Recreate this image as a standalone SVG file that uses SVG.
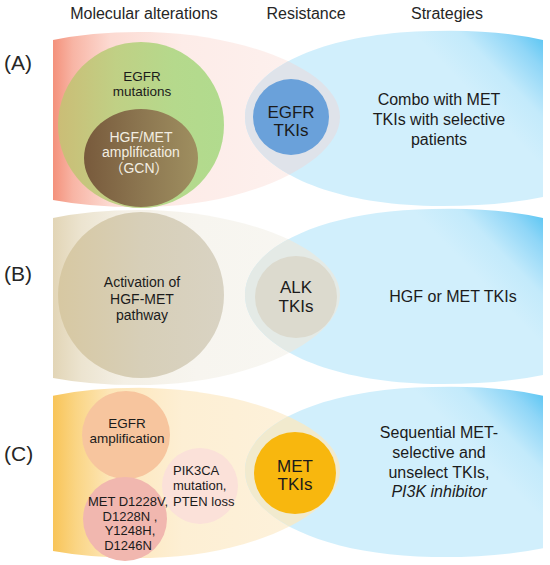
<svg xmlns="http://www.w3.org/2000/svg" xmlns:xlink="http://www.w3.org/1999/xlink" width="550" height="565" viewBox="0 0 550 565">
<defs>
<style>
text { font-family: "Liberation Sans", Arial, "Noto Sans CJK SC", sans-serif; fill:#1b1b1b; }
.hdr { font-size:16px; text-anchor:middle; fill:#262626; }
.lbl { font-size:21px; fill:#262626; }
.m { text-anchor:middle; }
.s13 { font-size:13px; }
.s135 { font-size:13.5px; }
.s14 { font-size:14px; }
.s16 { font-size:16px; }
.s17 { font-size:17px; }
.light { fill:#f3eee2; }
</style>
<path id="blueShape" d="M245,117 C245,70 320,33 432,31 Q495,29 543,40 L543,197 Q495,207 432,206 C320,204 245,164 245,117 Z"/>
<path id="leftShape" d="M340,117 C340,72 250,35 150,32 Q95,31 53,40 L53,200 Q95,208 150,207 C250,205 340,162 340,117 Z"/>
<clipPath id="clipLeft"><use href="#leftShape" xlink:href="#leftShape"/></clipPath>
<linearGradient id="gPink" gradientUnits="userSpaceOnUse" x1="53" y1="0" x2="340" y2="0">
<stop offset="0" stop-color="#f4917b"/><stop offset="0.07" stop-color="#f8b5a5"/><stop offset="0.2" stop-color="#fcdad2"/><stop offset="0.45" stop-color="#fdece8"/><stop offset="1" stop-color="#fdf2f0"/>
</linearGradient>
<linearGradient id="gTan" gradientUnits="userSpaceOnUse" x1="53" y1="0" x2="340" y2="0">
<stop offset="0" stop-color="#e2d5b6"/><stop offset="0.1" stop-color="#ece4d0"/><stop offset="0.25" stop-color="#f4f0e6"/><stop offset="0.5" stop-color="#f7f5ef"/><stop offset="1" stop-color="#f8f7f3"/>
</linearGradient>
<linearGradient id="gGold" gradientUnits="userSpaceOnUse" x1="53" y1="0" x2="340" y2="0">
<stop offset="0" stop-color="#f8c458"/><stop offset="0.08" stop-color="#fad584"/><stop offset="0.2" stop-color="#fde6b8"/><stop offset="0.45" stop-color="#fdefd4"/><stop offset="1" stop-color="#fdf2dd"/>
</linearGradient>
<linearGradient id="gBlue" gradientUnits="userSpaceOnUse" x1="548" y1="32" x2="478" y2="100">
<stop offset="0" stop-color="#4cc1f2"/><stop offset="0.3" stop-color="#8fd6f7"/><stop offset="0.65" stop-color="#c3eafb"/><stop offset="1" stop-color="#d1effc"/>
</linearGradient>
<linearGradient id="gGreen" x1="0" y1="0" x2="1" y2="0">
<stop offset="0" stop-color="#cbbd76"/><stop offset="0.35" stop-color="#c0d085"/><stop offset="0.7" stop-color="#b5d98c"/><stop offset="1" stop-color="#b1db8e"/>
</linearGradient>
<linearGradient id="gBrown" x1="0" y1="0" x2="1" y2="0">
<stop offset="0" stop-color="#785a3c"/><stop offset="0.5" stop-color="#8c7650"/><stop offset="1" stop-color="#9f8f60"/>
</linearGradient>
<linearGradient id="gTanC" x1="0" y1="0" x2="1" y2="0">
<stop offset="0" stop-color="#d7c8a2"/><stop offset="0.5" stop-color="#d7cfb8"/><stop offset="1" stop-color="#d9d3c3"/>
</linearGradient>
</defs>
<rect width="550" height="565" fill="#ffffff"/>

<g id="headers">
<text class="hdr" x="144" y="19">Molecular alterations</text>
<text class="hdr" x="306" y="19">Resistance</text>
<text class="hdr" x="447" y="19">Strategies</text>
</g>

<g id="panel-A">
<g id="bg-A">
<use href="#leftShape" xlink:href="#leftShape" fill="url(#gPink)"/>
<use href="#blueShape" xlink:href="#blueShape" fill="url(#gBlue)"/>
<use href="#blueShape" xlink:href="#blueShape" fill="#dfe3ea" clip-path="url(#clipLeft)"/>
</g>
<text class="lbl" x="4" y="70">(A)</text>
<g id="egfr-mutations">
<circle cx="141" cy="125" r="83" fill="url(#gGreen)"/>
<text class="s135 m" x="142" y="81">EGFR</text>
<text class="s135 m" x="142" y="96">mutations</text>
</g>
<g id="hgf-met-amp">
<ellipse cx="141" cy="158" rx="57" ry="49" fill="url(#gBrown)"/>
<text class="s14 m light" x="141" y="142">HGF/MET</text>
<text class="s14 m light" x="141" y="157">amplification</text>
<text class="s14 m light" x="139" y="173">（GCN）</text>
</g>
<g id="egfr-tkis">
<circle cx="291" cy="117" r="38" fill="#6aa1da"/>
<text class="s17 m" x="291" y="118">EGFR</text>
<text class="s17 m" x="291" y="136">TKIs</text>
</g>
<g id="strategy-A">
<text class="s16 m" x="439" y="105">Combo with MET</text>
<text class="s16 m" x="439" y="125">TKIs with selective</text>
<text class="s16 m" x="439" y="145">patients</text>
</g>
</g>

<g id="panel-B">
<g id="bg-B" transform="translate(0,178)">
<use href="#leftShape" xlink:href="#leftShape" fill="url(#gTan)"/>
<use href="#blueShape" xlink:href="#blueShape" fill="url(#gBlue)"/>
<use href="#blueShape" xlink:href="#blueShape" fill="#e4eae6" clip-path="url(#clipLeft)"/>
</g>
<text class="lbl" x="4" y="281">(B)</text>
<g id="hgf-met-pathway">
<circle cx="141" cy="295" r="83" fill="url(#gTanC)"/>
<text class="s14 m" x="142" y="287">Activation of</text>
<text class="s14 m" x="142" y="304">HGF-MET</text>
<text class="s14 m" x="142" y="320">pathway</text>
</g>
<g id="alk-tkis">
<circle cx="296" cy="297" r="41" fill="#dcdace"/>
<text class="s17 m" x="296" y="293">ALK</text>
<text class="s17 m" x="296" y="312">TKIs</text>
</g>
<g id="strategy-B">
<text class="s16 m" x="453" y="302">HGF or MET TKIs</text>
</g>
</g>

<g id="panel-C">
<g id="bg-C" transform="matrix(1,0,0,0.971,0,356.9)">
<use href="#leftShape" xlink:href="#leftShape" fill="url(#gGold)"/>
<use href="#blueShape" xlink:href="#blueShape" fill="url(#gBlue)"/>
<use href="#blueShape" xlink:href="#blueShape" fill="#f1eace" clip-path="url(#clipLeft)"/>
</g>
<text class="lbl" x="4" y="461">(C)</text>
<g id="pik3ca">
<circle cx="200" cy="486" r="38" fill="#fbe1d9"/>
<text class="s13" x="173" y="475">PIK3CA</text>
<text class="s13" x="173" y="490">mutation,</text>
<text class="s13" x="173" y="506">PTEN loss</text>
</g>
<g id="egfr-amplification">
<circle cx="126" cy="435" r="44" fill="#f7c59e"/>
<text class="s135 m" x="127" y="428">EGFR</text>
<text class="s135 m" x="127" y="443">amplification</text>
</g>
<g id="met-mutations">
<circle cx="125" cy="519" r="42" fill="#f1b7af"/>
<text class="s13 m" x="128" y="506">MET D1228V,</text>
<text class="s13 m" x="130" y="520.5">D1228N ,</text>
<text class="s13 m" x="130" y="535">Y1248H,</text>
<text class="s13 m" x="128" y="550">D1246N</text>
</g>
<g id="met-tkis">
<circle cx="295" cy="473" r="41" fill="#f8b70e"/>
<text class="s17 m" x="295" y="472">MET</text>
<text class="s17 m" x="295" y="490">TKIs</text>
</g>
<g id="strategy-C">
<text class="s16 m" x="439" y="438">Sequential MET-</text>
<text class="s16 m" x="439" y="458">selective and</text>
<text class="s16 m" x="439" y="478">unselect TKIs,</text>
<text class="s16 m" x="439" y="497" font-style="italic">PI3K inhibitor</text>
</g>
</g>

<g id="connectors"/>
</svg>
